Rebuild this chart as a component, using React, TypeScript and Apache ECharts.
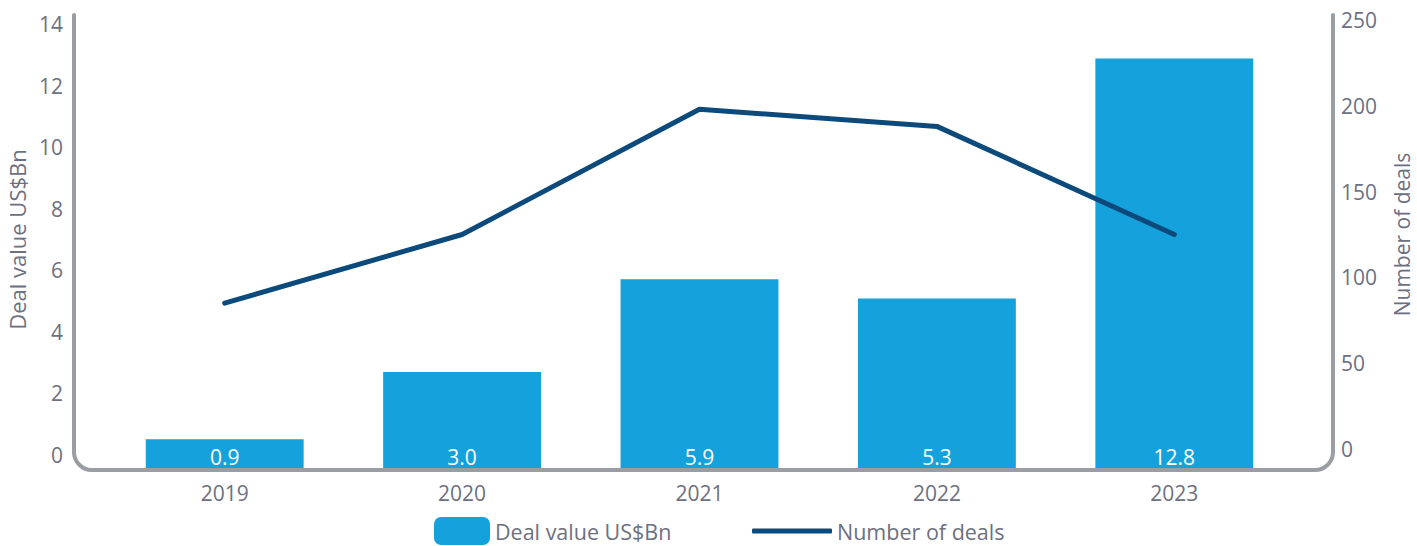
import React, { useEffect, useRef } from "react";
import * as echarts from "echarts";

const years = ["2019", "2020", "2021", "2022", "2023"];
const dealValue = [0.9, 3.0, 5.9, 5.3, 12.8];
const dealCount = [85, 125, 198, 188, 125];
const leftTicks = { min: 0, max: 14, interval: 2 };
const rightTicks = { min: 0, max: 250, interval: 50 };

const FONT = "'Open Sans', 'Noto Sans', sans-serif";
const TXT = "#6d7080";
const FRAME = "#9b9da4";
const BAR = "#15a1dc";
const LINE = "#0b4a7b";

export default function App() {
  const ref = useRef<HTMLDivElement>(null);
  useEffect(() => {
    const chart = echarts.init(ref.current!, null, { renderer: "svg" });
    const gridX = { left: 106, right: 1417 - 1293, outerBoundsMode: "none", containLabel: false };
    chart.setOption({
      animation: false,
      textStyle: { fontFamily: FONT },
      grid: [
        { ...gridX, top: 20, bottom: 546 - 468 },
        { left: 74, right: 84, top: 24, bottom: 546 - 455, outerBoundsMode: "none", containLabel: false },
        { ...gridX, top: 20, bottom: 546 - 449 },
      ],
      xAxis: [
        {
          type: "category", data: years, gridIndex: 0,
          axisLine: { show: false }, axisTick: { show: false },
          axisLabel: { color: TXT, fontSize: 21, margin: 14, fontFamily: FONT },
        },
        { type: "category", data: years, gridIndex: 1, show: false },
        { type: "category", data: years, gridIndex: 2, show: false },
      ],
      yAxis: [
        { type: "value", gridIndex: 0, ...leftTicks, show: false },
        {
          type: "value", gridIndex: 1, ...leftTicks, position: "left",
          name: "Deal value US$Bn", nameLocation: "middle", nameGap: 46,
          nameTextStyle: { color: TXT, fontSize: 22, fontFamily: FONT },
          axisLine: { show: false }, axisTick: { show: false }, splitLine: { show: false },
          axisLabel: { color: TXT, fontSize: 21, margin: 11, fontFamily: FONT },
        },
        {
          type: "value", gridIndex: 2, ...rightTicks, position: "right",
          offset: 1333 - 1293,
          name: "Number of deals", nameLocation: "middle", nameGap: 58,
          nameTextStyle: { color: TXT, fontSize: 21, fontFamily: FONT },
          axisLine: { show: false }, axisTick: { show: false }, splitLine: { show: false },
          axisLabel: { color: TXT, fontSize: 21, margin: 8, fontFamily: FONT },
        },
      ],
      legend: [
        {
          left: 434, top: 517, padding: 0, data: ["Deal value US$Bn"], icon: "roundRect",
          itemWidth: 56, itemHeight: 28, itemGap: 8,
          textStyle: { color: TXT, fontSize: 21.5, fontFamily: FONT },
        },
        {
          left: 752, top: 517, padding: 0, data: ["Number of deals"], icon: "roundRect",
          itemWidth: 80, itemHeight: 5, itemGap: 9,
          textStyle: { color: TXT, fontSize: 21.5, fontFamily: FONT, lineHeight: 28 },
        },
      ],
      series: [
        {
          name: "Deal value US$Bn", type: "bar", data: dealValue,
          xAxisIndex: 0, yAxisIndex: 0, barCategoryGap: "33.5%",
          itemStyle: { color: BAR },
          label: {
            show: true, position: "insideBottom", distance: 1, color: "#ffffff",
            fontSize: 21, fontFamily: FONT,
            formatter: (p: any) => Number(p.value).toFixed(1),
          },
        },
        {
          name: "Number of deals", type: "line", data: dealCount,
          xAxisIndex: 2, yAxisIndex: 2, symbol: "none",
          lineStyle: { color: LINE, width: 5, cap: "round" },
          itemStyle: { color: LINE },
        },
      ],
      graphic: [
        { type: "line", shape: { x1: 74, y1: 15, x2: 74, y2: 452 }, style: { stroke: FRAME, lineWidth: 4, lineCap: "round" }, z: 5 },
        { type: "arc", shape: { cx: 92, cy: 452, r: 18, startAngle: Math.PI / 2, endAngle: Math.PI, clockwise: true }, style: { stroke: FRAME, lineWidth: 4, fill: "none" }, z: 5 },
        { type: "line", shape: { x1: 92, y1: 470, x2: 1315, y2: 470 }, style: { stroke: FRAME, lineWidth: 4 }, z: 5 },
        { type: "arc", shape: { cx: 1315, cy: 452, r: 18, startAngle: 0, endAngle: Math.PI / 2, clockwise: true }, style: { stroke: FRAME, lineWidth: 4, fill: "none" }, z: 5 },
        { type: "line", shape: { x1: 1333, y1: 15, x2: 1333, y2: 452 }, style: { stroke: FRAME, lineWidth: 4, lineCap: "round" }, z: 5 },
      ],
    });
    return () => chart.dispose();
  }, []);
  return <div ref={ref} style={{ width: 1417, height: 546, position: "absolute", left: 0, top: 0 }} />;
}
